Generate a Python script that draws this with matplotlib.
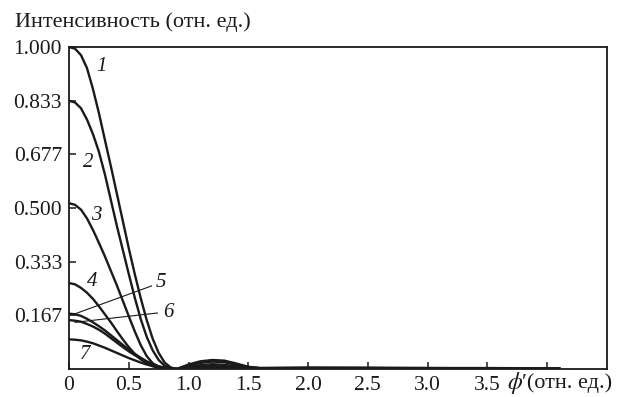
"""Intensity profiles of seven curves vs. phi' (relative units)."""

import matplotlib

matplotlib.use("Agg")
import matplotlib.pyplot as plt  # noqa: E402

plt.rcParams["font.family"] = ["Liberation Serif", "DejaVu Serif"]
plt.rcParams["mathtext.fontset"] = "stix"

# shared x grid (main lobe, side lobe, flat tail)
phi = [0.0, 0.05, 0.1, 0.15, 0.2, 0.25, 0.3, 0.35, 0.4, 0.45, 0.5, 0.55,
       0.6, 0.65, 0.7, 0.75, 0.8, 0.85, 0.9,
       1.0, 1.1, 1.2, 1.3, 1.4, 1.5, 1.6, 2.0, 2.5, 3.0, 3.5, 4.1]

curve_1 = [1.0, 0.995, 0.975, 0.935, 0.87, 0.795, 0.712, 0.63, 0.545, 0.46, 0.375, 0.295,
           0.22, 0.152, 0.094, 0.05, 0.02, 0.005, 0.0,
           0.014, 0.024, 0.028, 0.026, 0.017, 0.007, 0.003, 0.004, 0.004, 0.003, 0.003, 0.002]
curve_2 = [0.833, 0.828, 0.81, 0.775, 0.73, 0.675, 0.605, 0.525, 0.445, 0.37, 0.295, 0.222,
           0.155, 0.1, 0.058, 0.028, 0.01, 0.002, 0.0,
           0.011, 0.019, 0.023, 0.021, 0.013, 0.006, 0.003, 0.004, 0.003, 0.003, 0.002, 0.002]
curve_3 = [0.515, 0.51, 0.495, 0.468, 0.432, 0.392, 0.35, 0.305, 0.26, 0.212, 0.164, 0.117,
           0.074, 0.04, 0.018, 0.007, 0.002, 0.0, 0.0,
           0.007, 0.012, 0.015, 0.013, 0.008, 0.004, 0.002, 0.003, 0.003, 0.002, 0.002, 0.002]
curve_4 = [0.267, 0.263, 0.252, 0.237, 0.218, 0.195, 0.17, 0.145, 0.118, 0.092, 0.068, 0.047,
           0.03, 0.018, 0.009, 0.004, 0.001, 0.0, 0.0,
           0.004, 0.007, 0.009, 0.008, 0.005, 0.003, 0.002, 0.002, 0.002, 0.002, 0.001, 0.001]
curve_5 = [0.172, 0.17, 0.165, 0.156, 0.145, 0.133, 0.12, 0.105, 0.09, 0.075, 0.06, 0.047,
           0.035, 0.024, 0.015, 0.008, 0.004, 0.001, 0.0,
           0.003, 0.005, 0.006, 0.005, 0.003, 0.002, 0.001, 0.001, 0.001, 0.001, 0.001, 0.001]
curve_6 = [0.152, 0.15, 0.147, 0.14, 0.132, 0.122, 0.11, 0.096, 0.082, 0.068, 0.055, 0.043,
           0.032, 0.022, 0.014, 0.008, 0.004, 0.001, 0.0,
           0.003, 0.004, 0.005, 0.004, 0.003, 0.002, 0.001, 0.001, 0.001, 0.001, 0.001, 0.001]
curve_7 = [0.092, 0.091, 0.089, 0.085, 0.08, 0.073, 0.066, 0.058, 0.05, 0.042, 0.034, 0.027,
           0.02, 0.014, 0.009, 0.005, 0.003, 0.001, 0.0,
           0.002, 0.003, 0.004, 0.003, 0.002, 0.001, 0.001, 0.001, 0.001, 0.001, 0.001, 0.001]
curves = [curve_1, curve_2, curve_3, curve_4, curve_5, curve_6, curve_7]

x_ticks = [0, 0.5, 1.0, 1.5, 2.0, 2.5, 3.0, 3.5, 4.0]
x_tick_labels = ["0", "0.5", "1.0", "1.5", "2.0", "2.5", "3.0", "3.5", ""]
y_ticks = [1 / 6, 2 / 6, 3 / 6, 4 / 6, 5 / 6, 1.0]
y_tick_labels = ["0.167", "0.333", "0.500", "0.677", "0.833", "1.000"]

ink = "#1a1a1a"
fig = plt.figure(figsize=(6.24, 3.97), dpi=100)
ax = fig.add_axes([0.1106, 0.0705, 0.862, 0.811])

for values in curves:
    ax.plot(phi, values, color=ink, linewidth=1.7, solid_joinstyle="round")

ax.set_xlim(0, 4.5)
ax.set_ylim(0, 1.0)
ax.set_xticks(x_ticks)
ax.set_xticklabels(x_tick_labels)
ax.set_yticks(y_ticks)
ax.set_yticklabels(y_tick_labels)
ax.tick_params(direction="in", length=5, width=1.1, labelsize=15.5, pad=5,
               colors=ink)
for spine in ax.spines.values():
    spine.set_linewidth(1.3)
    spine.set_color(ink)

# curve numbers
label_kw = dict(fontsize=15, style="italic", color=ink, ha="center", va="center")
ax.text(0.27, 0.94, "1", **label_kw)
ax.text(0.16, 0.64, "2", **label_kw)
ax.text(0.23, 0.478, "3", **label_kw)
ax.text(0.19, 0.272, "4", **label_kw)
ax.text(0.77, 0.27, "5", **label_kw)
ax.text(0.83, 0.174, "6", **label_kw)
ax.text(0.13, 0.045, "7", **label_kw)
ax.plot([0.025, 0.69], [0.168, 0.258], color=ink, linewidth=0.8)
ax.plot([0.05, 0.74], [0.145, 0.174], color=ink, linewidth=0.8)

fig.text(0.024, 0.944, "Интенсивность (отн. ед.)", fontsize=16,
         color=ink, va="center", ha="left")
# x-axis label sits right of the "3.5" tick label, as in the original
fig.text(0.813, 0.036, r"$\phi$", fontsize=17, color=ink, va="center", ha="left")
fig.text(0.836, 0.036, "′(отн. ед.)", fontsize=16,
         color=ink, va="center", ha="left")

fig.savefig("out.png", dpi=100)
